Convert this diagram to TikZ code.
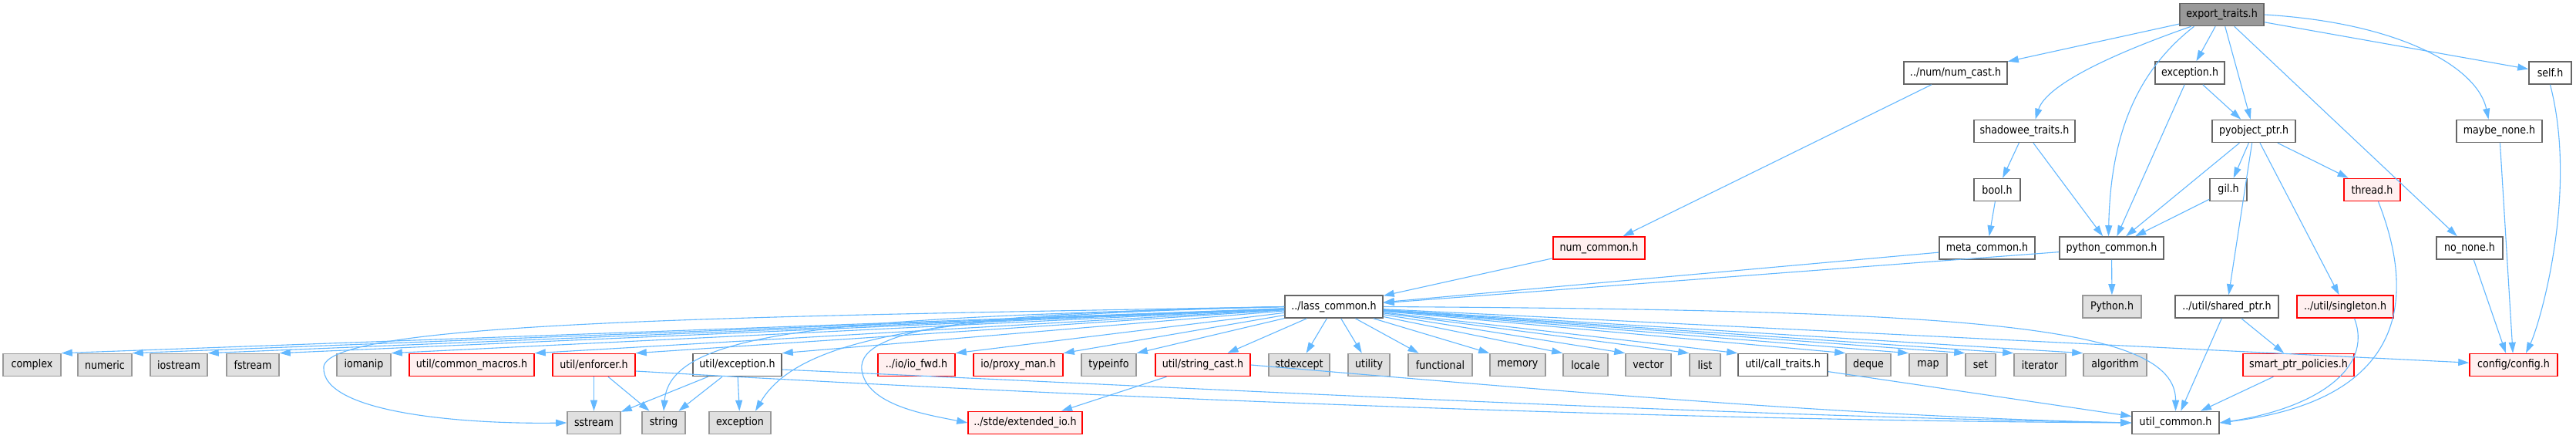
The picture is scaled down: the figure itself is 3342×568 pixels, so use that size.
\documentclass[tikz,border=0pt]{standalone}
\usepackage{fontspec}
\setmainfont{DejaVu Sans}[FakeStretch=0.88]
\usetikzlibrary{arrows.meta}
\definecolor{eblue}{HTML}{63B8FF}
\definecolor{bdark}{HTML}{666666}
\definecolor{bgray}{HTML}{999999}
\definecolor{fgray}{HTML}{E0E0E0}
\definecolor{fred}{HTML}{FFF0F0}
\definecolor{bred}{HTML}{FF0000}
\tikzset{
  base/.style={draw=bdark, fill=white, line width=0.8pt, minimum height=14.5pt, inner sep=0pt, font=\fontsize{7.2}{8}\selectfont},
  wn/.style={base},
  gn/.style={base, draw=bgray, fill=fgray},
  rn/.style={base, draw=bred, fill=fred},
  rt/.style={base, draw=bdark, fill=bgray},
  ed/.style={draw=eblue, line width=0.55pt, -{Triangle[length=7pt,width=4.5pt]}}
}
\begin{document}
\begin{tikzpicture}[x=0.5pt,y=-0.5pt]
\useasboundingbox[fill=white] (0,0) rectangle (3342,568);
% rows 0-5
\node[rt, minimum width=54.5pt] (et) at (2882.5,19) {export\_traits.h};
\node[wn, minimum width=67pt] (numcast) at (2537,94.5) {../num/num\_cast.h};
\node[wn, minimum width=45pt] (exc) at (2841,94.5) {exception.h};
\node[wn, minimum width=27.5pt] (self) at (3308.5,94.5) {self.h};
\node[wn, minimum width=65.5pt] (shadow) at (2626.5,170) {shadowee\_traits.h};
\node[wn, minimum width=54pt] (pyobj) at (2924,170) {pyobject\_ptr.h};
\node[wn, minimum width=55.5pt] (maybe) at (3242.5,170) {maybe\_none.h};
\node[wn, minimum width=30pt] (bool) at (2591,246) {bool.h};
\node[wn, minimum width=24pt] (gil) at (2891,246) {gil.h};
\node[rn, minimum width=36.5pt] (thread) at (3077.5,246) {thread.h};
\node[rn, minimum width=59.5pt] (numcommon) at (2074.5,321.5) {num\_common.h};
\node[wn, minimum width=62pt] (meta) at (2578,321.5) {meta\_common.h};
\node[wn, minimum width=67.5pt] (pycommon) at (2739.5,321.5) {python\_common.h};
\node[wn, minimum width=43pt] (nonone) at (3204,321.5) {no\_none.h};
\node[wn, minimum width=63.5pt] (lass) at (1730.5,397.5) {../lass\_common.h};
\node[gn, minimum width=38pt] (python) at (2740,397.5) {Python.h};
\node[wn, minimum width=67pt] (sharedptr) at (2889,397.5) {../util/shared\_ptr.h};
\node[rn, minimum width=62.5pt] (singleton) at (3042.5,397.5) {../util/singleton.h};
% row 6
\node[gn, minimum width=37.5pt] (complex) at (41.5,473) {complex};
\node[gn, minimum width=35pt] (numeric) at (136,473) {numeric};
\node[gn, minimum width=37pt] (iostream) at (232,473) {iostream};
\node[gn, minimum width=34pt] (fstream) at (328,473) {fstream};
\node[gn, minimum width=35pt] (iomanip) at (472,473) {iomanip};
\node[rn, minimum width=81pt] (cmacros) at (612,473) {util/common\_macros.h};
\node[rn, minimum width=53.5pt] (enforcer) at (770.5,473) {util/enforcer.h};
\node[wn, minimum width=57.5pt] (uexc) at (956.5,473) {util/exception.h};
\node[rn, minimum width=50pt] (iofwd) at (1189,473) {../io/io\_fwd.h};
\node[rn, minimum width=58pt] (proxy) at (1321,473) {io/proxy\_man.h};
\node[gn, minimum width=35.5pt] (typeinfo) at (1438.5,473) {typeinfo};
\node[rn, minimum width=61.5pt] (strcast) at (1560.5,473) {util/string\_cast.h};
\node[gn, minimum width=39.5pt] (stdexcept) at (1685.5,473) {stdexcept};
\node[gn, minimum width=27pt] (utility) at (1776,473) {utility};
\node[gn, minimum width=41.5pt] (functional) at (1868.5,473) {functional};
\node[gn, minimum width=36pt] (memory) at (1969,473) {memory};
\node[gn, minimum width=29pt] (locale) at (2057,473) {locale};
\node[gn, minimum width=29.5pt] (vector) at (2138.5,473) {vector};
\node[gn, minimum width=20pt] (list) at (2212,473) {list};
\node[wn, minimum width=58pt] (calltraits) at (2313,473) {util/call\_traits.h};
\node[gn, minimum width=29pt] (deque) at (2424,473) {deque};
\node[gn, minimum width=24.5pt] (map) at (2501.5,473) {map};
\node[gn, minimum width=19.5pt] (set) at (2569.5,473) {set};
\node[gn, minimum width=33.5pt] (iterator) at (2646.5,473) {iterator};
\node[gn, minimum width=41pt] (algorithm) at (2744,473) {algorithm};
\node[rn, minimum width=72pt] (smartptr) at (2982,473) {smart\_ptr\_policies.h};
\node[rn, minimum width=57pt] (config) at (3261,473) {config/config.h};
% row 7
\node[gn, minimum width=34.5pt] (sstream) at (770.5,548) {sstream};
\node[gn, minimum width=28pt] (string) at (861,548) {string};
\node[gn, minimum width=40pt] (exception) at (960,548) {exception};
\node[rn, minimum width=74pt] (extio) at (1330,548) {../stde/extended\_io.h};
\node[wn, minimum width=56.5pt] (utilcommon) at (2822.5,548) {util\_common.h};

% edges from export_traits.h
\draw[ed] (et) -- (numcast);
\draw[ed] ([xshift=-20pt]et.south) .. controls (2740,70) and (2655,110) .. ([xshift=7pt]shadow.north);
\draw[ed] ([xshift=-18pt]et.south) .. controls (2775,90) and (2738,170) .. ([xshift=-2pt]pycommon.north);
\draw[ed] (et) -- (exc);
\draw[ed] (et) -- (pyobj);
\draw[ed] (et) -- (nonone);
\draw[ed] (et) -- (self);
\draw[ed] (et.east) .. controls (3120,30) and (3215,90) .. ([xshift=-7pt]maybe.north);
% middle
\draw[ed] (numcast) -- (numcommon);
\draw[ed] (exc) -- (pycommon);
\draw[ed] (exc) -- (pyobj);
\draw[ed] (shadow) -- (bool);
\draw[ed] (shadow) -- (pycommon);
\draw[ed] (pyobj) -- (pycommon);
\draw[ed] (pyobj) -- (gil);
\draw[ed] (pyobj) -- (thread);
\draw[ed] (pyobj) -- (sharedptr);
\draw[ed] (pyobj) -- (singleton);
\draw[ed] (gil) -- (pycommon);
\draw[ed] (bool) -- (meta);
\draw[ed] (maybe) -- (config);
\draw[ed] (nonone) -- ([xshift=-5pt]config.north);
\draw[ed] (self.south) .. controls (3345,250) and (3295,420) .. ([xshift=8pt]config.north);
\draw[ed] ([xshift=4pt]thread.south) .. controls (3140,400) and (3110,520) .. (utilcommon.east);
\draw[ed] (numcommon) -- (lass);
\draw[ed] (meta) -- (lass);
\draw[ed] (pycommon) -- (lass);
\draw[ed] (pycommon) -- (python);
% from lass_common.h
\foreach \t in {complex,numeric,iostream,fstream,iomanip,cmacros,enforcer,uexc,iofwd,proxy,typeinfo}
  \draw[ed] (lass) -- (\t.north east);
\draw[ed] (lass) -- ([xshift=16pt]strcast.north);
\draw[ed] (lass) -- (stdexcept);
\draw[ed] (lass) -- (utility);
\draw[ed] (lass) -- (functional);
\foreach \t in {memory,locale,vector,list,calltraits,deque,map,set,iterator,algorithm}
  \draw[ed] (lass) -- (\t.north west);
\draw[ed] (lass) -- (config);
\draw[ed] (lass.west) .. controls (1000,410) and (430,415) .. (420,475) .. controls (415,535) and (600,550) .. (sstream.west);
\draw[ed] (lass.west) .. controls (1100,412) and (870,425) .. (string.north);
\draw[ed] (lass.west) .. controls (1250,408) and (1040,430) .. ([xshift=10pt]exception.north);
\draw[ed] (lass.west) .. controls (1300,405) and (1110,420) .. (1118,480) .. controls (1125,525) and (1200,537) .. (extio.west);
\draw[ed] (lass.east) .. controls (2550,402) and (2823,420) .. (utilcommon.north);
% lower
\draw[ed] (enforcer) -- (sstream);
\draw[ed] (enforcer) -- (string);
\draw[ed] ([yshift=-4pt]enforcer.east) .. controls (1500,520) and (2200,545) .. (utilcommon.west);
\draw[ed] (uexc) -- (sstream);
\draw[ed] (uexc) -- (string);
\draw[ed] (uexc) -- (exception);
\draw[ed] ([yshift=-3pt]uexc.east) .. controls (1600,505) and (2200,538) .. (utilcommon.west);
\draw[ed] (strcast) -- (extio);
\draw[ed] (strcast.east) .. controls (2000,505) and (2400,540) .. (utilcommon.west);
\draw[ed] (calltraits) -- (utilcommon);
\draw[ed] (sharedptr) -- (utilcommon);
\draw[ed] (sharedptr) -- (smartptr);
\draw[ed] (smartptr) -- (utilcommon);
\draw[ed] ([xshift=6pt]singleton.south) .. controls (3080,480) and (3000,530) .. (utilcommon.east);
\end{tikzpicture}
\end{document}
